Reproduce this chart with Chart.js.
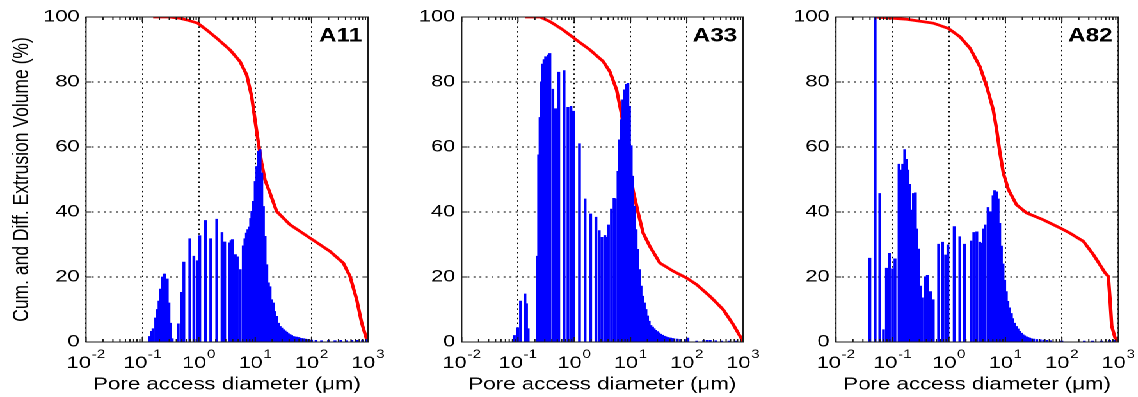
<!DOCTYPE html>
<html><head><meta charset="utf-8">
<script src="https://cdn.jsdelivr.net/npm/chart.js@4.4.1/dist/chart.umd.min.js"></script>
<style>
html,body{margin:0;padding:0;background:#fff;overflow:hidden;width:1138px;height:397px;}
#stage{position:absolute;left:0;top:0;width:889px;height:397px;transform:scaleX(1.28);transform-origin:0 0;}
.panel{position:absolute;top:0;height:397px;}
</style></head><body>
<div id="stage">
  <div class="panel" style="left:0px;width:300px"><canvas id="c0"></canvas></div>
  <div class="panel" style="left:295px;width:298px"><canvas id="c1"></canvas></div>
  <div class="panel" style="left:588px;width:298px"><canvas id="c2"></canvas></div>
</div>
<script>
// ---------- data ----------
const panelNames = ['A11', 'A33', 'A82'];
const xTitle = 'Pore access diameter (\u03bcm)';
const yTitle = 'Cum. and Diff. Extrusion Volume (%)';
const yTickValues = [0, 20, 40, 60, 80, 100];
const xTickExponents = [-2, -1, 0, 1, 2, 3];   // tick labels 10^e

// A11 differential (bars)
const a11Diam = [0.135,0.144,0.154,0.172,0.184,0.197,0.211,0.225,0.241,0.251,0.276,0.296,0.316,0.338,
  0.432,0.494,0.543,0.693,0.817,0.935,1.04,1.31,1.63,2.08,2.58,2.88,3.48,3.72,3.93,4.44,4.81,5.43,6.14,6.57,6.98,
  7.43,7.94,8.30,8.73,9.35,10.0,10.7,11.5,12.2,13.1,14.0,15.0,16.1,17.2,18.4,19.7,21.1,22.5,24.1,25.8,27.6,29.6,31.6,
  33.8,36.2,38.7,41.5,44.4,47.5,50.8,54.3,58.2,62.2,66.7,71.3,76.2,81.7,87.3,
  100,120,150,200,260,330,420,520,650,800,950];
const a11Diff = [1.7,3.3,4.1,7.4,10.0,12.6,16.3,20.0,20.9,20.9,19.4,12.0,5.8,1.0,
  5.6,15.3,24.6,31.8,26.4,25.0,32.7,37.4,31.8,37.8,33.7,30.8,30.5,31.2,31.5,26.9,26.2,22.3,29.6,31.8,33.5,
  34.6,35.4,38.0,40.2,43.3,49.4,54.0,58.7,59.2,52.0,41.7,32.5,23.8,18.2,17.0,13.0,12.0,9.4,7.9,5.8,4.8,4.3,3.8,
  3.4,3.0,2.6,2.3,2.0,1.7,1.6,1.5,1.4,1.2,1.1,1.0,0.9,0.8,0.7,
  0.6,0.5,0.4,0.5,0.4,0.5,0.4,0.5,0.5,0.6,0.8];
// A11 cumulative (line)
const a11CumDiam = [0.155,0.30,0.464,0.61,0.955,1.38,2.07,3.57,5.37,7.06,8.66,9.9,11.4,13.0,14.9,18.3,24.0,41.4,93.7,212,365,480,630,773,948,1000];
const a11Cum     = [100,100,99.6,99.1,98.1,96.0,93.5,89.9,86.3,82.2,75.5,68.4,61.2,55.1,49.9,45.8,40.2,36.1,32.0,27.9,24.3,20.2,13.1,5.9,0.8,0];

// A33 differential (bars)
const a33Diam = [0.0863,0.0986,0.111,0.133,0.142,0.152,
  0.221,0.233,0.247,0.260,0.271,0.290,0.310,0.327,0.350,0.369,
  0.417,0.464,0.531,0.659,0.774,0.875,0.973,
  1.24,1.56,1.96,2.43,2.78,3.10,3.50,3.79,4.06,4.58,5.10,5.38,
  6.00,6.41,6.86,7.33,7.85,8.39,8.98,9.60,
  10.3,11.0,11.7,12.6,13.4,14.4,15.4,16.5,17.6,18.8,20.1,21.5,23.1,
  24.7,26.4,28.2,30.2,32.3,34.5,36.9,39.5,42.3,45.2,48.3,51.6,55.3,59.2,67.6,77.4,
  95,105,150,200,230,260,330,420,560,750];
const a33Diff = [2.0,4.4,12.6,14.8,11.8,4.1,
  26.4,57.6,69.1,80.0,85.5,86.9,87.8,87.6,88.3,88.8,
  77.8,71.8,83.0,83.5,72.2,72.5,71.0,
  61.0,44.0,39.4,38.4,34.3,32.2,32.8,32.2,36.0,40.9,44.2,44.0,
  52.5,62.2,68.4,74.5,77.6,79.3,79.6,72.5,
  60.4,51.0,41.8,34.6,28.5,22.3,17.2,14.1,12.0,10.0,8.0,6.4,5.1,
  4.6,4.1,3.6,3.2,2.8,2.4,2.1,1.8,1.6,1.4,1.3,1.2,1.1,1.0,0.9,0.8,
  0.8,1.2,0.3,0.5,0.5,0.5,0.4,0.3,0.3,0.3];
// A33 cumulative (line)
const a33CumDiam = [0.133,0.246,0.370,0.638,1.10,1.90,3.28,4.30,5.66,6.95,8.2,9.6,11.2,13.7,16.8,22.1,33.3,57.4,99,149,257,443,668,1000];
const a33Cum     = [100,100,98.6,96.0,92.9,89.9,86.3,83.2,77.6,70.0,61.0,53.5,46.3,39.7,33.5,29.4,24.3,21.8,19.7,17.7,14.1,10.0,5.4,0.2];

// A82 differential (bars)
const a82Diam = [0.0398,0.0494,0.0597,0.0694,0.0783,0.0885,0.100,0.111,
  0.131,0.140,0.152,0.165,0.177,0.189,0.202,0.219,0.235,0.255,0.272,0.292,0.316,0.334,
  0.377,0.415,0.474,0.529,0.657,0.773,0.873,0.960,
  1.24,1.56,1.89,2.48,2.76,3.12,3.52,3.72,4.15,4.38,4.94,5.51,
  6.06,6.48,6.94,7.43,7.94,8.50,9.09,9.73,
  10.4,11.1,11.9,12.8,13.6,14.6,15.6,16.7,17.9,19.2,
  20.5,21.9,23.5,25.1,26.9,28.8,31.6,36.0,41.5,47.5,54.3,62.2,
  100,250,350,500,700,850];
const a82Diff = [25.8,100,45.7,3.8,22.7,27.3,22.5,25.6,
  54.7,52.9,54.7,59.2,56.2,52.9,48.5,40.6,45.7,45.9,34.8,28.6,17.2,13.6,
  20.1,20.5,15.5,13.0,30.1,30.7,26.8,29.9,
  35.5,32.4,30.1,31.1,33.7,33.9,30.7,30.4,34.8,36.0,41.4,40.1,
  45.0,46.6,46.2,44.0,36.5,29.5,24.0,19.0,
  15.5,12.5,10.5,8.8,7.2,5.8,4.8,4.0,3.3,2.7,
  2.2,1.9,1.6,1.4,1.2,1.0,0.9,0.8,0.7,0.6,0.5,0.4,
  0.3,0.3,0.3,0.3,0.5,0.5];
// A82 cumulative (line)
const a82CumDiam = [0.049,0.179,0.528,0.975,1.57,2.36,3.55,4.67,6.11,7.01,8.03,9.2,11.3,15.8,23.8,47.0,92.7,139,240,361,581,665,713,763,873,1000];
const a82Cum     = [100,99.3,98.1,96.5,93.9,90.4,84.7,78.6,71.4,65.3,58.1,52.0,46.9,42.2,39.7,37.6,35.1,33.5,31.0,26.9,21.3,20.2,13.1,4.9,1.3,0.3];

// ---------- drawing ----------
const FONT = "'Liberation Sans', Arial, Helvetica, sans-serif";
Chart.defaults.font.family = FONT;
Chart.defaults.color = '#000';

const panels = [
  {diam: a11Diam, diff: a11Diff, cd: a11CumDiam, cv: a11Cum, axisW: 67.2, padR: 12.5, yTitle: true},
  {diam: a33Diam, diff: a33Diff, cd: a33CumDiam, cv: a33Cum, axisW: 65.7, padR: 12.5, yTitle: false},
  {diam: a82Diam, diff: a82Diff, cd: a82CumDiam, cv: a82Cum, axisW: 65.1, padR: 12.3, yTitle: false}
];

const framePlugin = {
  id: 'frame',
  afterDraw(chart) {
    const {ctx, chartArea: a, scales: {x, y}} = chart;
    const name = chart.options.plugins.frame.name;
    ctx.save();
    ctx.strokeStyle = '#1a1a1a';
    ctx.lineWidth = 1;
    ctx.beginPath();
    for (let k = -2; k < 3; k++) {
      for (let m = 2; m <= 9; m++) {
        const px = x.getPixelForValue(m * Math.pow(10, k));
        ctx.moveTo(px, a.bottom); ctx.lineTo(px, a.bottom - 3);
        ctx.moveTo(px, a.top); ctx.lineTo(px, a.top + 3);
      }
    }
    for (const e of xTickExponents) {
      const px = x.getPixelForValue(Math.pow(10, e));
      ctx.moveTo(px, a.bottom); ctx.lineTo(px, a.bottom - 5);
      ctx.moveTo(px, a.top); ctx.lineTo(px, a.top + 5);
    }
    for (const v of yTickValues) {
      const py = y.getPixelForValue(v);
      ctx.moveTo(a.left, py); ctx.lineTo(a.left + 4, py);
      ctx.moveTo(a.right, py); ctx.lineTo(a.right - 4, py);
    }
    ctx.stroke();
    ctx.strokeRect(a.left, a.top, a.right - a.left, a.bottom - a.top);

    // x tick labels: 10 with superscript exponent
    ctx.fillStyle = '#000';
    ctx.textBaseline = 'alphabetic';
    ctx.textAlign = 'left';
    for (const e of xTickExponents) {
      const px = x.getPixelForValue(Math.pow(10, e));
      const base = '10', sup = String(e);
      ctx.font = '17px ' + FONT;
      const wb = ctx.measureText(base).width;
      ctx.font = '12px ' + FONT;
      const ws = ctx.measureText(sup).width;
      const left = px - (wb + ws + 0.5) / 2;
      ctx.font = '17px ' + FONT;
      ctx.fillText(base, left, a.bottom + 26);
      ctx.font = '12px ' + FONT;
      ctx.fillText(sup, left + wb + 0.5, a.bottom + 16);
    }
    // panel label
    ctx.font = 'bold 19px ' + FONT;
    ctx.textAlign = 'right';
    ctx.fillText(name, a.right - 4.5, a.top + 24.5);
    ctx.restore();
  }
};

panels.forEach((p, i) => {
  const bars = p.diam.map((d, j) => ({x: d, y: p.diff[j]}));
  const line = p.cd.map((d, j) => ({x: d, y: p.cv[j]}));
  new Chart(document.getElementById('c' + i), {
    type: 'bar',
    data: {
      datasets: [
        {type: 'bar', data: bars, backgroundColor: '#0000ff', borderWidth: 0,
         barThickness: 1.55, order: 0},
        {type: 'line', data: line, borderColor: '#ff0000', borderWidth: 2.7,
         pointRadius: 0, tension: 0, fill: false, order: 1}
      ]
    },
    options: {
      responsive: true,
      maintainAspectRatio: false,
      animation: false,
      devicePixelRatio: 2,
      events: [],
      layout: {padding: {left: 0, right: p.padR, top: 17, bottom: 0}},
      plugins: {
        legend: {display: false},
        tooltip: {enabled: false},
        frame: {name: panelNames[i]}
      },
      scales: {
        x: {
          type: 'logarithmic',
          min: 0.01, max: 1000,
          offset: false,
          grid: {offset: false, color: '#000', lineWidth: 1, drawTicks: false},
          border: {display: false, dash: [1.5, 3.2]},
          ticks: {display: false},
          afterBuildTicks: (s) => { s.ticks = xTickExponents.map(e => ({value: Math.pow(10, e)})); },
          afterFit: (s) => { s.height = 55; s.paddingLeft = 0; s.paddingRight = 0; },
          title: {display: true, text: xTitle, font: {size: 17.4}, color: '#000',
                  padding: {top: 0, bottom: 2}}
        },
        y: {
          type: 'linear',
          min: 0, max: 100,
          grid: {color: '#000', lineWidth: 1, drawTicks: false},
          border: {display: false, dash: [1.5, 3.2]},
          ticks: {stepSize: 20, padding: 5, font: {size: 17}, color: '#000',
                  callback: (v) => yTickValues.includes(v) ? String(v) : ''},
          afterFit: (s) => { s.width = p.axisW; s.paddingTop = 0; s.paddingBottom = 0; },
          title: {display: p.yTitle, text: yTitle, font: {size: 17.5}, color: '#000',
                  padding: {top: 6.5, bottom: 0}}
        }
      }
    },
    plugins: [framePlugin]
  });
});
</script>
</body></html>
